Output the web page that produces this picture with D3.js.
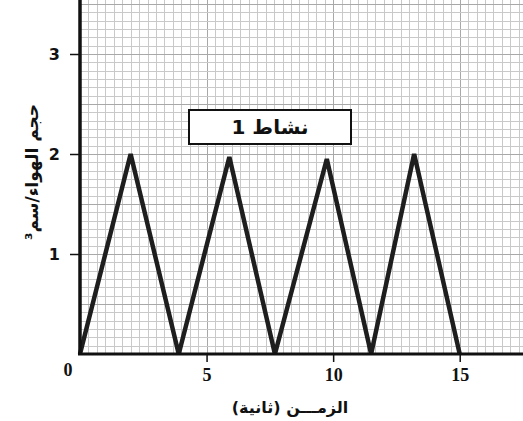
<!DOCTYPE html>
<html lang="ar">
<head>
<meta charset="utf-8">
<script src="https://cdn.jsdelivr.net/npm/d3@7"></script>
<style>
    html, body { margin: 0; padding: 0; background: #fff; }
    .graph { display: block; }
    .graph__grid line { stroke: #c9c9c9; stroke-width: 1; shape-rendering: crispEdges; }
    .graph__grid line.major { stroke: #a8a8a8; }
    .graph__line { fill: none; stroke: #1e1e1e; stroke-width: 4.5; stroke-linejoin: miter; }
    .graph__axis path, .graph__axis line { stroke: #111; }
</style>
</head>
<body>
<svg class="graph"></svg>
<script>
// الزمن (ثانية)
const timeValues = [0, 2, 3.9, 5.9, 7.7, 9.75, 11.5, 13.2, 15];
// حجم الهواء / سم³
const volumeValues = [0, 2, 0, 1.97, 0, 1.95, 0, 2, 0];
const xTickValues = [5, 10, 15];
const yTickValues = [1, 2, 3];
const titleText = "نشاط 1";
const xLabelText = "الزمـــن (ثانية)";
const yLabelText = "حجم الهواء/سم³";

const size = {width: 523, height: 421};
const margin = {left: 80, top: 0, right: 0, bottom: 67};

const svg = d3.select(".graph")
    .attr("width", size.width)
    .attr("height", size.height);

const x = d3.scaleLinear()
    .domain([0, 17.5])
    .range([margin.left, size.width - margin.right]);
const y = d3.scaleLinear()
    .domain([0, 3.54])
    .range([size.height - margin.bottom, margin.top]);

const data = timeValues.map((t, i) => ({time: t, volume: volumeValues[i]}));

/***
 * ورق الرسم البياني
 */
const grid = svg.append("g").attr("class", "graph__grid");
const xGrid = d3.range(1, 53).map(i => i / 3);
const yGrid = d3.range(1, 43).map(i => i / 12);

grid.selectAll(".v")
    .data(xGrid)
    .join("line")
    .attr("class", d => Math.abs(d / 2.5 - Math.round(d / 2.5)) < 1e-6 ? "v major" : "v")
    .attr("x1", d => Math.round(x(d)) + 0.5)
    .attr("x2", d => Math.round(x(d)) + 0.5)
    .attr("y1", y(0))
    .attr("y2", 0);

grid.selectAll(".h")
    .data(yGrid)
    .join("line")
    .attr("class", d => Math.abs(d * 2 - Math.round(d * 2)) < 1e-6 ? "h major" : "h")
    .attr("x1", x(0))
    .attr("x2", size.width)
    .attr("y1", d => Math.round(y(d)) + 0.5)
    .attr("y2", d => Math.round(y(d)) + 0.5);

// المنحنى
const valueLine = d3.line()
    .x(d => x(d.time))
    .y(d => y(d.volume));

svg.append("path")
    .datum(data)
    .attr("class", "graph__line")
    .attr("d", valueLine);

// المحاور
const xAxis = d3.axisBottom(x)
    .tickValues(xTickValues)
    .tickFormat(d3.format("d"))
    .tickSize(8)
    .tickSizeOuter(0);

const yAxis = d3.axisLeft(y)
    .tickValues(yTickValues)
    .tickFormat(d3.format("d"))
    .tickSize(10)
    .tickSizeOuter(0);

const gx = svg.append("g")
    .attr("class", "graph__axis")
    .attr("transform", `translate(0,${y(0)})`)
    .call(xAxis);
gx.select(".domain").attr("d", `M${x(0) - 2},0H${size.width}`).attr("stroke-width", 3);
gx.selectAll(".tick line").attr("stroke-width", 1.5);
gx.selectAll(".tick text")
    .attr("y", 14)
    .attr("fill", "#111")
    .style("font", "bold 18px 'Liberation Serif'");

const gy = svg.append("g")
    .attr("class", "graph__axis")
    .attr("transform", `translate(${x(0)},0)`)
    .call(yAxis);
gy.select(".domain").attr("d", `M0,0V${y(0) + 1}`).attr("stroke-width", 3.5);
gy.selectAll(".tick line").attr("stroke-width", 1.5);
gy.selectAll(".tick text")
    .attr("x", -20)
    .attr("fill", "#111")
    .style("font", "bold 16px 'DejaVu Sans'");

// صفر المبدأ
svg.append("text")
    .attr("x", x(0) - 12)
    .attr("y", y(0) + 22)
    .attr("text-anchor", "middle")
    .attr("fill", "#111")
    .style("font", "bold 18px 'Liberation Serif'")
    .text("0");

// عناوين المحاور
svg.append("text")
    .attr("x", 290)
    .attr("y", 413)
    .attr("text-anchor", "middle")
    .attr("fill", "#111")
    .attr("direction", "rtl")
    .style("font", "bold 16px 'DejaVu Sans'")
    .text(xLabelText);

svg.append("text")
    .attr("transform", "translate(38,172) rotate(-90)")
    .attr("text-anchor", "middle")
    .attr("fill", "#111")
    .attr("direction", "rtl")
    .style("font", "bold 17px 'DejaVu Sans'")
    .text(yLabelText);

// مربع العنوان
const titleBox = svg.append("g");
titleBox.append("rect")
    .attr("x", 189)
    .attr("y", 110)
    .attr("width", 162)
    .attr("height", 34)
    .attr("fill", "#fff")
    .attr("stroke", "#111")
    .attr("stroke-width", 2);
titleBox.append("text")
    .attr("x", 270)
    .attr("y", 134)
    .attr("text-anchor", "middle")
    .attr("fill", "#111")
    .attr("direction", "rtl")
    .style("font", "bold 20px 'DejaVu Sans'")
    .text(titleText);
</script>
</body>
</html>
